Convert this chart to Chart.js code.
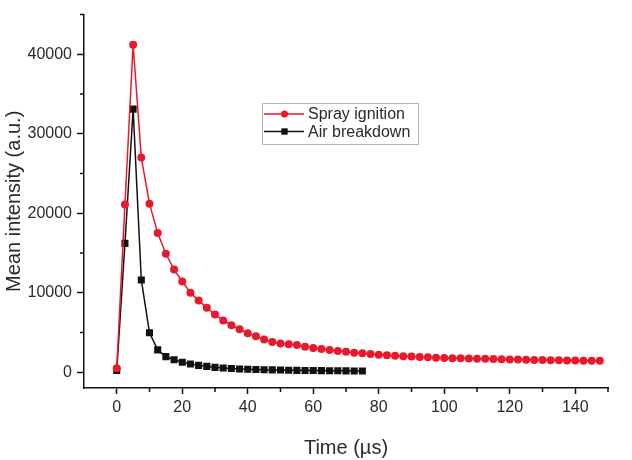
<!DOCTYPE html>
<html lang="en">

<head>
  <meta charset="UTF-8">
  <title>Mean intensity vs time</title>
  <style>
    body {
      margin: 0;
      background-color: #ffffff;
    }

    .chart-box {
      width: 632px;
      height: 460px;
    }
  </style>
  <script src="https://cdn.jsdelivr.net/npm/chart.js"></script>
</head>

<body>
  <div class="chart-box">
    <canvas id="intensityChart"></canvas>
  </div>

  <script>
    // values (time in µs, intensity in a.u.)
    const sprayTimes = [0, 2.5, 5, 7.5, 10, 12.5, 15, 17.5, 20, 22.5, 25, 27.5, 30, 32.5, 35, 37.5, 40, 42.5, 45, 47.5,
      50, 52.5, 55, 57.5, 60, 62.5, 65, 67.5, 70, 72.5, 75, 77.5, 80, 82.5, 85, 87.5, 90, 92.5, 95, 97.5,
      100, 102.5, 105, 107.5, 110, 112.5, 115, 117.5, 120, 122.5, 125, 127.5, 130, 132.5, 135, 137.5, 140, 142.5, 145, 147.5];
    const sprayValues = [500, 21100, 41200, 27000, 21200, 17500, 14900, 12900, 11400, 10000, 9000, 8100, 7250, 6500, 5900, 5400, 4900, 4500, 4100, 3800,
      3600, 3500, 3400, 3200, 3050, 2900, 2770, 2650, 2550, 2450, 2360, 2270, 2200, 2120, 2050, 2000, 1950, 1900, 1860, 1820,
      1790, 1760, 1740, 1710, 1690, 1670, 1650, 1630, 1600, 1580, 1560, 1540, 1520, 1500, 1490, 1470, 1460, 1440, 1430, 1420];

    const airTimes = [0, 2.5, 5, 7.5, 10, 12.5, 15, 17.5, 20, 22.5, 25, 27.5, 30, 32.5, 35, 37.5, 40, 42.5, 45, 47.5,
      50, 52.5, 55, 57.5, 60, 62.5, 65, 67.5, 70, 72.5, 75];
    const airValues = [200, 16200, 33100, 11600, 4950, 2800, 1950, 1550, 1250, 1030, 850, 720, 600, 520, 450, 400, 360, 330, 300, 280,
      260, 240, 220, 210, 200, 190, 180, 170, 160, 150, 140];

    const seriesLabels = ['Spray ignition', 'Air breakdown'];
    const xTickValues = [0, 20, 40, 60, 80, 100, 120, 140];
    const yTickValues = [0, 10000, 20000, 30000, 40000];
    const xMinorTicks = [10, 30, 50, 70, 90, 110, 130, 150];
    const yMinorTicks = [5000, 15000, 25000, 35000, 45000];

    const RED = '#e8192c';
    const BLACK = '#111111';
    const TEXT = '#2a2a2a';
    const FONT = '"Liberation Sans", Arial, sans-serif';

    function toPoints(xs, ys) {
      return xs.map((x, i) => ({ x: x, y: ys[i] }));
    }

    // minor ticks + inside legend
    const extrasPlugin = {
      id: 'extras',
      afterDraw(chart) {
        const ctx = chart.ctx;
        const xs = chart.scales.x;
        const ys = chart.scales.y;
        ctx.save();
        ctx.strokeStyle = BLACK;
        ctx.lineWidth = 1.5;
        ctx.beginPath();
        xMinorTicks.forEach(v => {
          const px = xs.getPixelForValue(v);
          ctx.moveTo(px, xs.top);
          ctx.lineTo(px, xs.top + 4);
        });
        yMinorTicks.forEach(v => {
          const py = ys.getPixelForValue(v);
          ctx.moveTo(ys.right, py);
          ctx.lineTo(ys.right - 4, py);
        });
        ctx.stroke();

        // legend box
        const box = { left: 262.5, top: 103.5, right: 418.5, bottom: 144.5 };
        ctx.strokeStyle = '#b4b4b4';
        ctx.lineWidth = 1;
        ctx.strokeRect(box.left, box.top, box.right - box.left, box.bottom - box.top);

        const rows = [
          { y: 114, color: RED, style: 'circle', radius: 3.5, label: seriesLabels[0] },
          { y: 131.5, color: BLACK, style: 'rect', radius: 4.5, label: seriesLabels[1] }
        ];
        rows.forEach(r => {
          ctx.strokeStyle = r.color;
          ctx.lineWidth = 1.5;
          ctx.beginPath();
          ctx.moveTo(264, r.y);
          ctx.lineTo(304, r.y);
          ctx.stroke();
          ctx.fillStyle = r.color;
          Chart.helpers.drawPoint(ctx, { pointStyle: r.style, radius: r.radius, borderWidth: 0 }, 284.5, r.y);
          ctx.fillStyle = TEXT;
          ctx.font = '16px ' + FONT;
          ctx.textAlign = 'left';
          ctx.textBaseline = 'middle';
          ctx.fillText(r.label, 308, r.y + 1);
        });
        ctx.restore();
      }
    };

    const ctx = document.getElementById('intensityChart').getContext('2d');

    new Chart(ctx, {
      type: 'scatter',
      data: {
        datasets: [{
          label: seriesLabels[0],
          data: toPoints(sprayTimes, sprayValues),
          showLine: true,
          borderColor: RED,
          borderWidth: 1.5,
          backgroundColor: RED,
          pointStyle: 'circle',
          pointRadius: 4,
          pointBorderWidth: 0,
          tension: 0
        }, {
          label: seriesLabels[1],
          data: toPoints(airTimes, airValues),
          showLine: true,
          borderColor: BLACK,
          borderWidth: 1.5,
          backgroundColor: BLACK,
          pointStyle: 'rect',
          pointRadius: 5,
          pointBorderWidth: 0,
          tension: 0
        }]
      },
      options: {
        responsive: true,
        maintainAspectRatio: false,
        animation: false,
        layout: {
          padding: { top: 10, right: 24, left: 0, bottom: 0 }
        },
        plugins: {
          legend: { display: false },
          tooltip: { enabled: false }
        },
        scales: {
          x: {
            type: 'linear',
            min: -10,
            max: 150,
            border: { color: BLACK, width: 1.5 },
            grid: { drawOnChartArea: false, tickLength: 6, tickColor: BLACK, tickWidth: 1.5 },
            afterBuildTicks(scale) {
              scale.ticks = xTickValues.map(v => ({ value: v }));
            },
            ticks: {
              padding: 4,
              color: TEXT,
              font: { family: FONT, size: 16 },
              callback: v => String(v)
            },
            title: {
              display: true,
              text: 'Time (µs)',
              color: TEXT,
              padding: { top: 12, bottom: 0 },
              font: { family: FONT, size: 20 }
            },
            afterFit(scale) { scale.height = 72; }
          },
          y: {
            type: 'linear',
            min: -2000,
            max: 45000,
            border: { color: BLACK, width: 1.5 },
            grid: { drawOnChartArea: false, tickLength: 7, tickColor: BLACK, tickWidth: 1.5 },
            afterBuildTicks(scale) {
              scale.ticks = yTickValues.map(v => ({ value: v }));
            },
            ticks: {
              padding: 5,
              color: TEXT,
              font: { family: FONT, size: 16 },
              callback: v => String(v)
            },
            title: {
              display: true,
              text: 'Mean intensity (a.u.)',
              color: TEXT,
              padding: { top: 2, bottom: 0 },
              font: { family: FONT, size: 20 }
            },
            afterFit(scale) { scale.width = 84; }
          }
        }
      },
      plugins: [extrasPlugin]
    });
  </script>
</body>

</html>
